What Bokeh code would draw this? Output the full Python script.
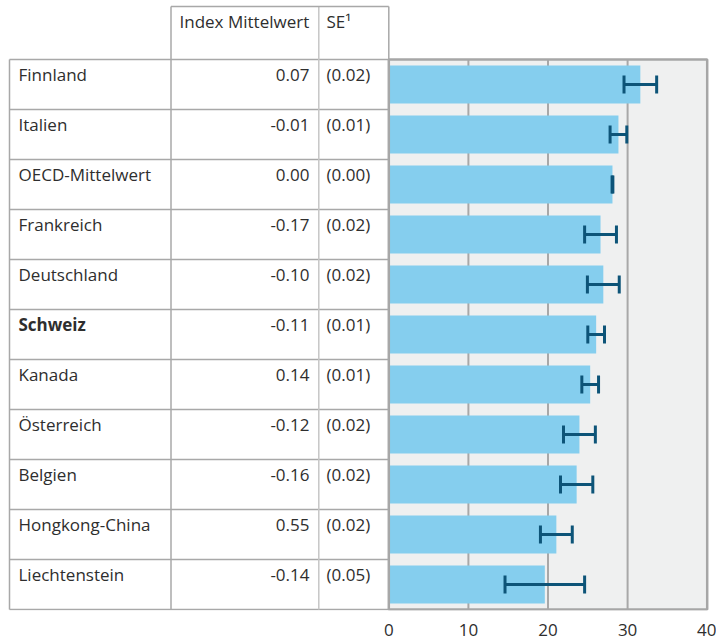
from bokeh.plotting import figure
from bokeh.models import Range1d, FixedTicker, ColumnDataSource
from bokeh.core.properties import value
from bokeh.embed import file_html
from bokeh.resources import INLINE

# ---- data ----
countries = ["Finnland", "Italien", "OECD-Mittelwert", "Frankreich", "Deutschland",
             "Schweiz", "Kanada", "Österreich", "Belgien", "Hongkong-China", "Liechtenstein"]
index_mean = ["0.07", "-0.01", "0.00", "-0.17", "-0.10", "-0.11", "0.14", "-0.12",
              "-0.16", "0.55", "-0.14"]
se_labels = ["(0.02)", "(0.01)", "(0.00)", "(0.02)", "(0.02)", "(0.01)", "(0.01)",
             "(0.02)", "(0.02)", "(0.02)", "(0.05)"]
bar_values = [31.6, 28.85, 28.1, 26.6, 26.95, 26.05, 25.3, 23.95, 23.6, 21.05, 19.6]
error_half = [2.05, 1.05, 0.05, 2.0, 2.0, 1.05, 1.05, 2.0, 2.03, 2.0, 5.0]
bold = [False, False, False, False, False, True, False, False, False, False, False]
x_ticks = [0, 10, 20, 30, 40]
header_index = "Index Mittelwert"
header_se = "SE¹"

# ---- layout constants ----
PX = 7.96            # px per unit on x
ZERO = 388.3         # canvas x of value 0
def xp(cx):
    return (cx - ZERO) / PX

def yp(cy):
    return (cy - 84.0) / 50.0

FONT = value("Open Sans")
TXT = "#2e2e2e"
LINE = "#a8a8a8"
LIGHT = "#c6c6c6"
n = len(countries)
rows = list(range(n))

p = figure(width=716, height=640, output_backend="svg", toolbar_location=None,
           x_range=Range1d(xp(0), xp(716)), y_range=Range1d(yp(610), yp(0)),
           y_axis_location=None, x_axis_location="below",
           min_border_left=0, min_border_right=0, min_border_top=0, min_border_bottom=30)
p.outline_line_color = None
p.xgrid.visible = False
p.ygrid.visible = False

# plot-area background
xmin, xmax = x_ticks[0], x_ticks[-1]
p.quad(left=[xmin], right=[xmax], top=[-0.5], bottom=[n - 0.5],
       fill_color="#eff0f0", line_color=None)

# grid lines
inner = x_ticks[1:-1]
p.segment(x0=inner, x1=inner, y0=[-0.5] * len(inner), y1=[n - 0.5] * len(inner),
          line_color=LINE, line_width=2)

# bars
src = ColumnDataSource(dict(
    y=rows, v=bar_values,
    lo=[v - e for v, e in zip(bar_values, error_half)],
    hi=[v + e for v, e in zip(bar_values, error_half)],
    cap0=[r - 0.18 for r in rows], cap1=[r + 0.18 for r in rows],
    ty=[r - 0.2 for r in rows],
    name=countries, idx=index_mean, se=se_labels,
    style=["bold" if b else "normal" for b in bold],
))
p.hbar(y="y", left=0, right="v", height=0.76, source=src,
       fill_color="#85ceee", line_color=None)

# error bars
EC = "#0d5478"
p.segment(x0="lo", x1="hi", y0="y", y1="y", source=src, line_color=EC, line_width=3)
p.segment(x0="lo", x1="lo", y0="cap0", y1="cap1", source=src, line_color=EC, line_width=3)
p.segment(x0="hi", x1="hi", y0="cap0", y1="cap1", source=src, line_color=EC, line_width=3)

# plot-area frame
p.quad(left=[xmin], right=[xmax], top=[-0.5], bottom=[n - 0.5],
       fill_color=None, line_color="#a6a6a6", line_width=2.5)

# table lines
xl, xc1, xc2, xr = xp(9), xp(170.5), xp(318.3), xp(388.3)
ytop = yp(6)
hy = [r - 0.5 for r in range(n + 1)]
p.segment(x0=[xl] * len(hy), x1=[xr] * len(hy), y0=hy, y1=hy, line_color=LINE, line_width=1.5)
p.segment(x0=[xl], x1=[xl], y0=[-0.5], y1=[n - 0.5], line_color=LINE, line_width=1.5)
p.segment(x0=[xc1, xr], x1=[xc1, xr], y0=[ytop, ytop], y1=[n - 0.5, n - 0.5],
          line_color=LINE, line_width=1.5)
p.segment(x0=[xc2], x1=[xc2], y0=[ytop], y1=[n - 0.5], line_color=LIGHT, line_width=1.5)
p.segment(x0=[xc1], x1=[xr], y0=[ytop], y1=[ytop], line_color=LINE, line_width=1.5)

# table text
FS = "17px"
p.text(x=xp(18), y="ty", text="name", source=src, text_font=FONT, text_font_size=FS,
       text_color=TXT, text_baseline="alphabetic", text_align="left",
       text_font_style="style")
p.text(x=xp(309), y="ty", text="idx", source=src, text_font=FONT, text_font_size=FS,
       text_color=TXT, text_baseline="alphabetic", text_align="right")
p.text(x=xp(326), y="ty", text="se", source=src, text_font=FONT, text_font_size=FS,
       text_color=TXT, text_baseline="alphabetic", text_align="left")
p.text(x=[xp(179), xp(326)], y=[yp(20.5), yp(20.5)], text=[header_index, header_se],
       text_font=FONT, text_font_size=FS, text_color=TXT,
       text_baseline="alphabetic", text_align="left")

# x axis
ax = p.xaxis[0]
ax.ticker = FixedTicker(ticks=x_ticks)
ax.axis_line_color = None
ax.major_tick_line_color = None
ax.minor_tick_line_color = None
ax.major_label_text_font = "Open Sans"
ax.major_label_text_font_size = FS
ax.major_label_text_color = TXT
ax.major_label_standoff = 7

open("out.html", "w").write(file_html(p, INLINE))
